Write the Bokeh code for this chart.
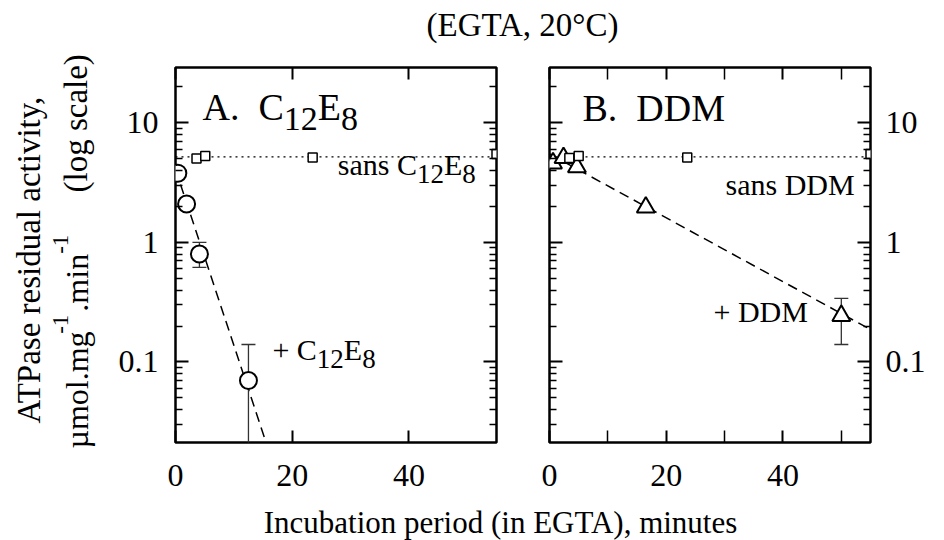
import math
from bokeh.plotting import figure
from bokeh.layouts import row, column
from bokeh.models import Range1d, FixedTicker, LogAxis, LinearAxis, CustomJSTickFormatter
from bokeh.core.properties import value
from bokeh.embed import file_html
from bokeh.resources import INLINE

# ---------------- data ----------------
# Panel A: + C12E8 (circles)
circ_x = [0.4, 1.9, 4.1, 12.5]
circ_y = [3.8, 2.1, 0.8, 0.07]
circ_err_x = [4.1, 12.5]
circ_err_lo = [0.62, 0.01]
circ_err_hi = [1.0, 0.14]
fitA_x = [0.0, 16.0]
fitA_y = [4.1, 0.018]
# Panel A: sans C12E8 (squares)
sqA_x = [3.6, 5.1, 23.5, 55.0]
sqA_y = [5.05, 5.3, 5.15, 5.5]
# Panel B: + DDM (triangles)
tri_x = [0.6, 2.4, 4.7, 16.5, 50.0]
tri_y = [4.6, 5.1, 4.27, 1.97, 0.244]
tri_err_x = [50.0]
tri_err_lo = [0.14]
tri_err_hi = [0.34]
fitB_x = [0.0, 55.0]
fitB_y = [5.5, 0.187]
# Panel B: sans DDM (squares)
sqB_x = [3.4, 5.0, 23.6, 55.0]
sqB_y = [5.1, 5.3, 5.15, 5.5]
# control level (dotted)
ctrl_x = [0.0, 55.0]
ctrl_y = [5.2, 5.2]

x_tick_vals = [0, 20, 40]
x_tick_labels = ["0", "20", "40"]
xA_minor = []
xB_minor = [10, 30, 50]
y_tick_vals = [0.1, 1, 10]
y_tick_labels = ["0.1", "1", "10"]
y_minor = [m * 10.0 ** e for e in (-2, -1, 0, 1) for m in range(2, 10)]

X_MAX = 55
Y_LO, Y_HI = 0.0212, 29.1

FONT = "Liberation Serif"
K = 0.37  # baseline -> middle correction (fraction of font size)
W = {" ": .25, "(": .333, ")": .333, "+": .564, ",": .25, "-": .333, ".": .25,
     "A": .722, "B": .667, "C": .667, "D": .722, "E": .611, "G": .722, "M": .889,
     "T": .611, "P": .556, "a": .444, "c": .444, "d": .5, "e": .444, "g": .5,
     "i": .278, "l": .278, "m": .778, "n": .5, "o": .5, "r": .333, "s": .389,
     "t": .278, "u": .5, "v": .5, "y": .5, "\u00b5": .5}


def tw(s, size):
    return sum(W.get(ch, 0.5) for ch in s) * size


def label_fmt(vals, labs):
    return CustomJSTickFormatter(args=dict(vals=vals, labs=labs), code="""
        for (let i = 0; i < vals.length; i++) {
            if (Math.abs(vals[i] - tick) <= 1e-9 * Math.max(1, Math.abs(vals[i]))) return labs[i];
        }
        return "";
    """)


def style_axis(ax, show, tick_in, minor_in, standoff):
    ax.axis_line_color = None
    ax.major_tick_in = tick_in
    ax.major_tick_out = 0
    ax.minor_tick_in = minor_in
    ax.minor_tick_out = 0
    ax.major_tick_line_width = 2
    ax.minor_tick_line_width = 1.5
    ax.major_tick_line_color = "black"
    ax.minor_tick_line_color = "black"
    if show:
        ax.major_label_text_font = FONT
        ax.major_label_text_font_size = "32px"
        ax.major_label_text_color = "black"
        ax.major_label_standoff = standoff
    else:
        ax.major_label_text_font_size = "0px"
        ax.major_label_standoff = 0
        ax.formatter = CustomJSTickFormatter(code="return '';")


def make_panel(width, bl, br, x_minor, ylabel_side):
    p = figure(width=width, height=458, x_range=Range1d(0, X_MAX), y_range=Range1d(Y_LO, Y_HI),
               y_axis_type="log", x_axis_location=None, y_axis_location=None,
               output_backend="svg", toolbar_location=None,
               min_border_left=bl, min_border_right=br, min_border_top=22, min_border_bottom=61)
    p.grid.visible = False
    p.outline_line_color = "black"
    p.outline_line_width = 2.5
    p.outline_line_alpha = 1
    p.background_fill_color = "white"
    p.border_fill_color = "white"
    for side in ("below", "above"):
        ax = LinearAxis(ticker=FixedTicker(ticks=x_tick_vals, minor_ticks=x_minor))
        show = side == "below"
        if show:
            ax.formatter = label_fmt(x_tick_vals, x_tick_labels)
        style_axis(ax, show, 12, 12, 22)
        p.add_layout(ax, side)
    for side in ("left", "right"):
        ax = LogAxis(ticker=FixedTicker(ticks=y_tick_vals, minor_ticks=y_minor))
        show = side == ylabel_side
        if show:
            ax.formatter = label_fmt(y_tick_vals, y_tick_labels)
        style_axis(ax, show, 13, 7, 17 if side == "left" else 15)
        p.add_layout(ax, side)
    return p


def rich(p, x, y, pieces, start=0.0):
    """pieces: (text, font size px, drop below baseline px); x,y = baseline start."""
    off = start
    for txt, size, dy in pieces:
        p.text(x=[x], y=[y], text=[txt], x_offset=off, y_offset=dy - K * size,
               text_font=value(FONT), text_font_size=f"{size}px",
               text_align="left", text_baseline="middle", text_color="black")
        off += tw(txt, size)


def blank_fig(w, h):
    f = figure(width=w, height=h, x_range=Range1d(0, w), y_range=Range1d(0, h),
               x_axis_location=None, y_axis_location=None, output_backend="svg",
               toolbar_location=None, min_border=0)
    f.grid.visible = False
    f.outline_line_color = None
    f.background_fill_color = "white"
    f.border_fill_color = "white"
    return f


# ---------------- panel A ----------------
p1 = make_panel(416, 75, 20, xA_minor, "left")
p1.line(ctrl_x, ctrl_y, line_dash="2 4", line_width=1.3, line_color="black")
p1.line(fitA_x, fitA_y, line_dash="10 6", line_width=1.5, line_color="black")
p1.segment(x0=circ_err_x, y0=circ_err_lo, x1=circ_err_x, y1=circ_err_hi, line_width=1.3, line_color="#333333")
p1.scatter(circ_err_x, circ_err_hi, marker="dash", size=14, line_width=1.3, line_color="#333333")
p1.scatter(circ_err_x, circ_err_lo, marker="dash", size=14, line_width=1.3, line_color="#333333")
p1.scatter(sqA_x, sqA_y, marker="square", size=9, fill_color="white", line_color="black", line_width=1.5)
p1.scatter(circ_x, circ_y, marker="circle", size=17, fill_color="white", line_color="black", line_width=2)

rich(p1, 4.63, 10.3, [("A.", 38, 0)])
rich(p1, 4.63, 10.3, [("C", 38, 0), ("12", 34, 10), ("E", 38, 0), ("8", 34, 10)],
     start=tw("A.  ", 38))
rich(p1, 27.8, 3.64, [("sans C", 30, 0), ("12", 27, 9), ("E", 30, 0), ("8", 27, 9)])
rich(p1, 16.6, 0.103, [("+ C", 30, 0), ("12", 27, 9), ("E", 30, 0), ("8", 27, 9)])

# ---------------- panel B ----------------
p2 = make_panel(428, 33, 74, xB_minor, "right")
p2.line(ctrl_x, ctrl_y, line_dash="2 4", line_width=1.3, line_color="black")
p2.line(fitB_x, fitB_y, line_dash="10 6", line_width=1.5, line_color="black")
p2.segment(x0=tri_err_x, y0=tri_err_lo, x1=tri_err_x, y1=tri_err_hi, line_width=1.3, line_color="#333333")
p2.scatter(tri_err_x, tri_err_hi, marker="dash", size=14, line_width=1.3, line_color="#333333")
p2.scatter(tri_err_x, tri_err_lo, marker="dash", size=14, line_width=1.3, line_color="#333333")
p2.scatter(tri_x, tri_y, marker="triangle", size=18, fill_color="white", line_color="black", line_width=2)
p2.scatter(sqB_x, sqB_y, marker="square", size=9, fill_color="white", line_color="black", line_width=1.5)

rich(p2, 5.65, 10.1, [("B.", 38, 0)])
rich(p2, 5.65, 10.1, [("DDM", 38, 0)], start=tw("B.  ", 38))
rich(p2, 30.16, 2.47, [("sans DDM", 30, 0)])
rich(p2, 28.1, 0.214, [("+ DDM", 30, 0)])

# ---------------- title, x label, y label ----------------
TITLE_H, XLAB_H, YLAB_W, TOTAL_H = 45, 37, 100, 540

title_fig = blank_fig(844, TITLE_H)
title_fig.text(x=[422], y=[TITLE_H - 37], text=["(EGTA, 20\u00b0C)"], y_offset=-K * 33,
               text_font=value(FONT), text_font_size="33px",
               text_align="center", text_baseline="middle", text_color="black")

xlab_fig = blank_fig(844, XLAB_H)
xlab_fig.text(x=[400], y=[XLAB_H - 30], text=["Incubation period (in EGTA), minutes"],
              y_offset=-K * 31, text_font=value(FONT), text_font_size="31px",
              text_align="center", text_baseline="middle", text_color="black")

ylab_fig = blank_fig(YLAB_W, TOTAL_H)
ang = math.pi / 2


def vtext(txt, base_x, start_sy, size):
    ylab_fig.text(x=[base_x - K * size], y=[TOTAL_H - start_sy], text=[txt], angle=ang,
                  text_font=value(FONT), text_font_size=f"{size}px",
                  text_align="left", text_baseline="middle", text_color="black")


vtext("ATPase residual activity,", 41, 423, 33)
# second line: umol.mg-1 .min-1 with raised exponents
sy = 448.0
for txt, size, base_x, gap in [("\u00b5mol.mg", 32, 88, 0), ("-1", 23, 69, 3),
                               (".min", 32, 88, 0), ("-1", 23, 69, 0)]:
    vtext(txt, base_x, sy, size)
    sy -= tw(txt, size) + gap
vtext("(log scale)", 88, 192, 33)

layout = row(ylab_fig, column(title_fig, row(p1, p2), xlab_fig))

open("out.html", "w").write(file_html(layout, INLINE))
